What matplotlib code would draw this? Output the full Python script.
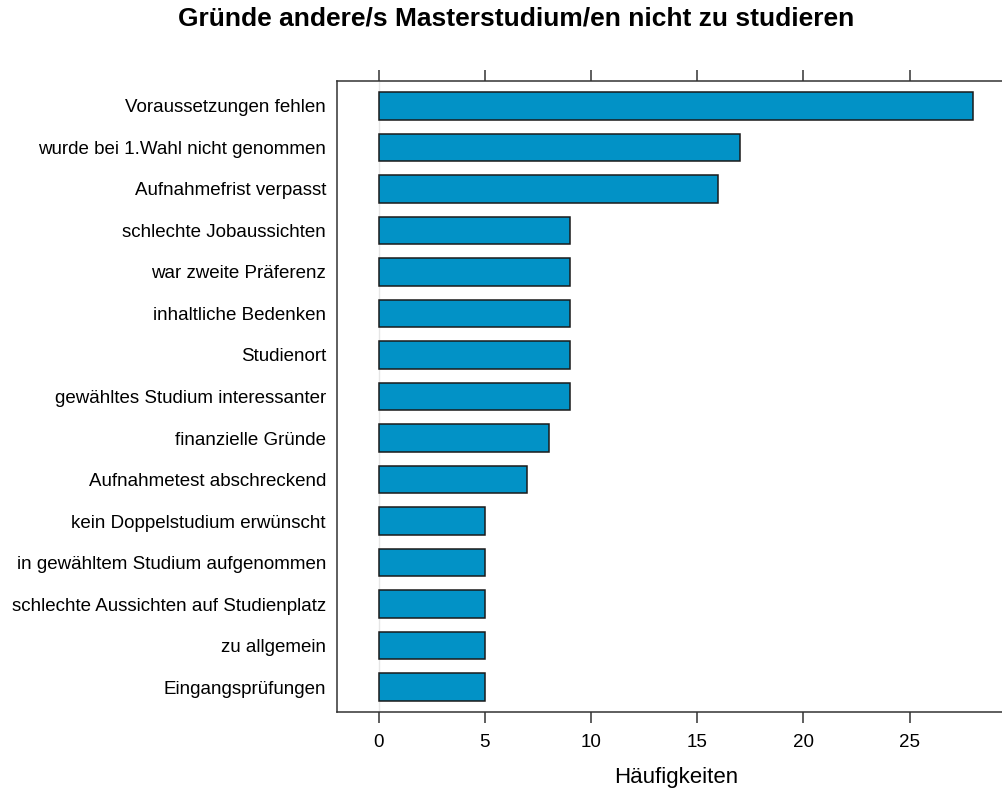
import numpy as np
import matplotlib
matplotlib.use("Agg")
import matplotlib.pyplot as plt

plt.rcParams['font.family'] = ['Liberation Sans', 'DejaVu Sans']

gruende = ["Voraussetzungen fehlen", "wurde bei 1.Wahl nicht genommen",
           "Aufnahmefrist verpasst", "schlechte Jobaussichten",
           "war zweite Präferenz", "inhaltliche Bedenken", "Studienort",
           "gewähltes Studium interessanter", "finanzielle Gründe",
           "Aufnahmetest abschreckend", "kein Doppelstudium erwünscht",
           "in gewähltem Studium aufgenommen",
           "schlechte Aussichten auf Studienplatz", "zu allgemein",
           "Eingangsprüfungen"]
haeufigkeiten = [28, 17, 16, 9, 9, 9, 9, 9, 8, 7, 5, 5, 5, 5, 5]
x_ticks = [0, 5, 10, 15, 20, 25]

W, H = 1003, 791
fig = plt.figure(figsize=(W / 100, H / 100), dpi=100)
ax = fig.add_axes([337 / W, 1 - 712 / H, (1015 - 337) / W, (712 - 81) / H])

n = len(gruende)
ypos = np.arange(n, 0, -1)
ax.axvline(0, color="#e6e6e6", lw=1, zorder=0)
ax.barh(ypos, haeufigkeiten, height=2 / 3, left=0, color="#0292c6",
        edgecolor="#1a1a1a", linewidth=1.1, zorder=2)

ax.set_ylim(0.4, n + 0.6)
ax.set_xlim(-0.07 * 28, 28 * 1.07)
ax.set_yticks(ypos)
ax.set_yticklabels(gruende, fontsize=13.5)
ax.tick_params(axis="y", length=0, pad=8)
ax.set_xticks(x_ticks)
ax.tick_params(axis="x", top=True, bottom=True, labeltop=False, direction="out",
               length=8, width=1.1, color="#333333", labelsize=13.5, pad=8)
for s in ax.spines.values():
    s.set_color("#333333")
    s.set_linewidth(1.1)

fig.text(516 / W, 1 - 19 / H, "Gründe andere/s Masterstudium/en nicht zu studieren",
         ha="center", va="center", fontsize=19, fontweight="bold")
fig.text(676 / W, 1 - 778 / H, "Häufigkeiten", ha="center", va="center", fontsize=16)

fig.savefig("out.png", dpi=100)
